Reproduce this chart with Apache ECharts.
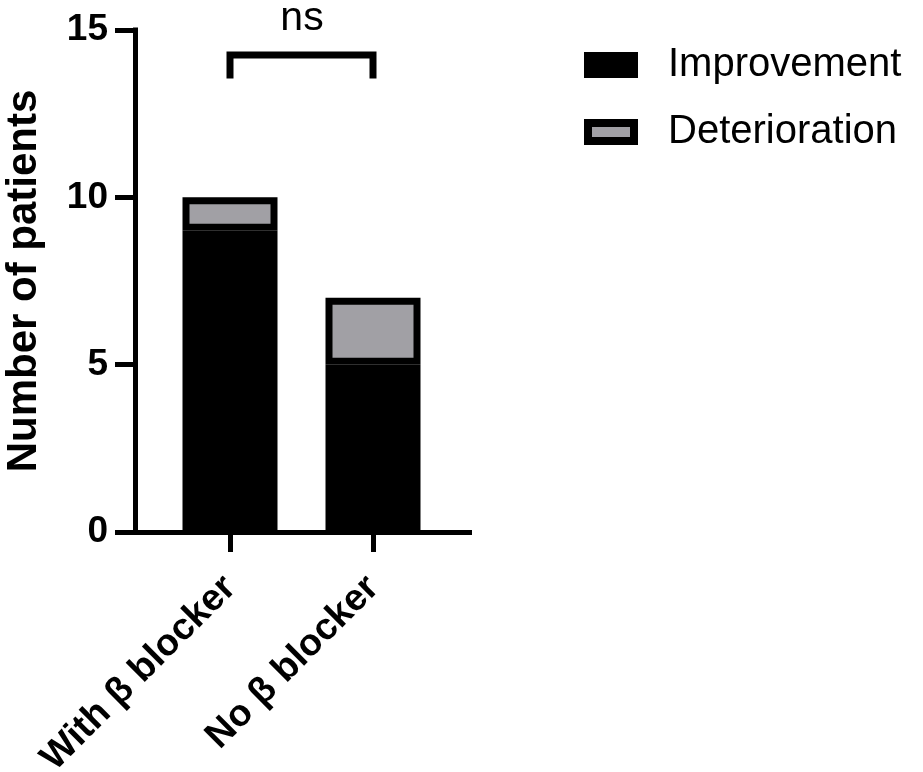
<!DOCTYPE html>
<html>
<head>
<meta charset="utf-8">
<script src="https://cdn.jsdelivr.net/npm/echarts@6/dist/echarts.min.js"></script>
<style>
  html, body { margin: 0; padding: 0; background: #fff; }
  #chart { width: 923px; height: 772px; }
</style>
</head>
<body>
<div id="chart"></div>
<script>
// data
const groups = ['With β blocker', 'No β blocker'];
const improvement = [9, 5];
const deterioration = [1, 2];
const yTicks = [0, 5, 10, 15];
// significance bracket between the two groups
const bracket = [[0, 13.55], [0, 14.25], [1, 14.25], [1, 13.55]];
const bracketLabel = 'ns';

const font = '"Liberation Sans", Arial, sans-serif';

const chart = echarts.init(document.getElementById('chart'));

const option = {
  animation: false,
  grid: {
    left: 158.5,
    right: 478.5,
    top: 30,
    bottom: 240,
    outerBoundsMode: 'none',
    containLabel: false
  },
  legend: {
    data: ['Improvement', 'Deterioration'],
    orient: 'vertical',
    left: 584,
    top: 45,
    padding: 0,
    itemWidth: 46,
    itemHeight: 18,
    itemGap: 27,
    icon: 'rect',
    itemStyle: { borderColor: '#000', borderWidth: 8 },
    textStyle: {
      fontFamily: font,
      fontSize: 40,
      color: '#000',
      lineHeight: 40,
      padding: [0, 0, 0, 29]
    }
  },
  xAxis: {
    type: 'category',
    data: groups,
    axisLine: { show: false },
    axisTick: {
      show: true,
      alignWithLabel: true,
      length: 20,
      lineStyle: { color: '#000', width: 5 }
    },
    axisLabel: {
      interval: 0,
      rotate: 45,
      margin: 50,
      color: '#000',
      fontFamily: font,
      fontWeight: 'bold',
      fontSize: 37.5
    },
    splitLine: { show: false }
  },
  yAxis: {
    type: 'value',
    min: yTicks[0],
    max: yTicks[yTicks.length - 1],
    interval: 5,
    offset: 23.5,
    name: 'Number of patients',
    nameLocation: 'middle',
    nameGap: 90,
    nameTextStyle: {
      fontFamily: font,
      fontWeight: 'bold',
      fontSize: 42,
      color: '#000'
    },
    axisLine: { show: true, lineStyle: { color: '#000', width: 5, cap: 'square' } },
    axisTick: { show: true, length: 20, lineStyle: { color: '#000', width: 5 } },
    axisLabel: {
      margin: 27,
      color: '#000',
      fontFamily: font,
      fontWeight: 'bold',
      fontSize: 37
    },
    splitLine: { show: false }
  },
  graphic: [
    {
      // x axis line, runs from the y axis to past the last bar
      type: 'line',
      z: 10,
      shape: { x1: 133, y1: 532.5, x2: 472, y2: 532.5 },
      style: { stroke: '#000', lineWidth: 5 }
    },
    {
      type: 'text',
      x: 302,
      y: 19,
      style: {
        text: bracketLabel,
        font: '41px ' + font,
        fill: '#000',
        align: 'center',
        verticalAlign: 'middle'
      }
    }
  ],
  series: [
    {
      name: 'Improvement',
      type: 'bar',
      stack: 'total',
      barWidth: 95,
      data: improvement,
      itemStyle: { color: '#000', borderColor: '#000', borderWidth: 7 }
    },
    {
      name: 'Deterioration',
      type: 'bar',
      stack: 'total',
      barWidth: 95,
      data: deterioration,
      itemStyle: { color: '#a1a0a5', borderColor: '#000', borderWidth: 7 }
    },
    {
      name: 'bracket',
      type: 'line',
      data: bracket,
      symbol: 'none',
      silent: true,
      lineStyle: { color: '#000', width: 7, join: 'miter', cap: 'butt' },
      z: 5
    }
  ]
};

chart.setOption(option);
</script>
</body>
</html>
